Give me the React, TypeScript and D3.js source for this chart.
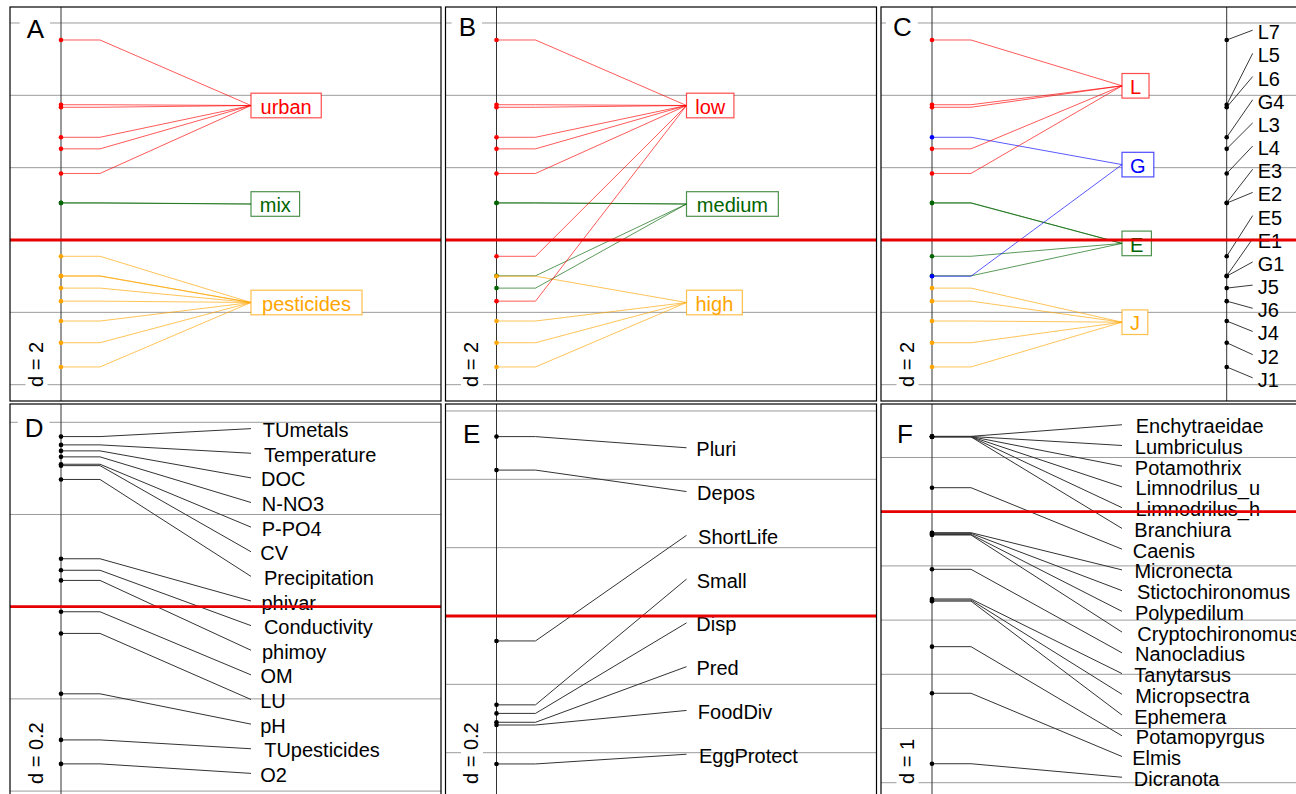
import React, { useEffect, useRef } from "react";
import * as d3 from "d3";

// ---------------- data ----------------
const siteNames = ["L7", "L5", "L6", "G4", "L3", "L4", "E3", "E2", "E5", "E1", "G1", "J5", "J6", "J4", "J2", "J1"];
const siteScores = [5.53, 3.74, 3.67, 2.84, 2.52, 1.84, 1.03, 1.02, -0.45, -0.99, -1.0, -1.33, -1.69, -2.24, -2.84, -3.51];

const landUseLevels = ["urban", "mix", "pesticides"];
const landUseOfSite = ["urban", "urban", "urban", "urban", "urban", "urban", "mix", "mix", "pesticides", "pesticides", "pesticides", "pesticides", "pesticides", "pesticides", "pesticides", "pesticides"];
const landUseColors = ["#ff0000", "#006400", "#ffa500"];

const intensityLevels = ["low", "medium", "high"];
const intensityOfSite = ["low", "low", "low", "low", "low", "low", "medium", "medium", "low", "medium", "high", "medium", "low", "high", "high", "high"];
const intensityColors = ["#ff0000", "#006400", "#ffa500"];

const regionLevels = ["L", "G", "E", "J"];
const regionOfSite = ["L", "L", "L", "G", "L", "L", "E", "E", "E", "E", "G", "J", "J", "J", "J", "J"];
const regionColors = ["#ff0000", "#0000ff", "#006400", "#ffa500"];

const envNames = ["TUmetals", "Temperature", "DOC", "N-NO3", "P-PO4", "CV", "Precipitation", "phivar", "Conductivity", "phimoy", "OM", "LU", "pH", "TUpesticides", "O2"];
const envScores = [0.369, 0.351, 0.338, 0.325, 0.309, 0.306, 0.276, 0.104, 0.079, 0.057, -0.011, -0.058, -0.189, -0.289, -0.341];

const traitNames = ["Pluri", "Depos", "ShortLife", "Small", "Disp", "Pred", "FoodDiv", "EggProtect"];
const traitScores = [0.525, 0.427, -0.073, -0.26, -0.285, -0.311, -0.319, -0.433];

const taxaNames = ["Enchytraeidae", "Lumbriculus", "Potamothrix", "Limnodrilus_u", "Limnodrilus_h", "Branchiura", "Caenis", "Micronecta", "Stictochironomus", "Polypedilum", "Cryptochironomus", "Nanocladius", "Tanytarsus", "Micropsectra", "Ephemera", "Potamopyrgus", "Elmis", "Dicranota"];
const taxaScores = [1.39, 1.388, 1.386, 1.384, 1.382, 1.38, 0.443, -0.387, -0.4, -0.42, -0.43, -1.063, -1.61, -1.63, -1.65, -2.49, -3.35, -4.65];

const panelLetters = ["A", "B", "C", "D", "E", "F"];
const gridSteps = [2, 2, 2, 0.2, 0.2, 1];
const gridLabels = ["d = 2", "d = 2", "d = 2", "d = 0.2", "d = 0.2", "d = 1"];

// ---------------- layout ----------------
const W = 1296;
const H = 794;
const colLefts = [10, 445.5, 881];
const rowTops = [7, 404];
const PW = 431;
const PH = 394;
const AXIS_DX = 51;
const ELBOW = 39;
const LABEL_DX = 190;
const RIGHT_AXIS_DX = 345.7;
const domains: [number, number][] = [
  [-4.451, 6.442],
  [-4.451, 6.442],
  [-4.451, 6.442],
  [-0.415, 0.4397],
  [-0.5326, 0.6204],
  [-5.282, 1.987],
];
const letterPos = [
  [16.7, 31.3],
  [13.2, 29],
  [12, 29],
  [14.7, 32.7],
  [17.5, 38.7],
  [16, 38.7],
];
const FONT = "'Liberation Sans', Arial, Helvetica, sans-serif";

type Sel = d3.Selection<any, any, any, any>;

function textWidth(t: Sel): number {
  return (t.node() as SVGTextElement).getComputedTextLength();
}

function drawPanel(root: Sel, i: number) {
  const col = i % 3;
  const row = Math.floor(i / 3);
  const left = colLefts[col];
  const top = rowTops[row];
  const clipId = "pclip" + i;
  root
    .append("clipPath")
    .attr("id", clipId)
    .append("rect")
    .attr("x", left)
    .attr("y", top)
    .attr("width", PW)
    .attr("height", PH);
  const c = root.append("g").attr("clip-path", `url(#${clipId})`);
  c.append("rect").attr("x", left).attr("y", top).attr("width", PW).attr("height", PH).attr("fill", "#fff");

  const dom = domains[i];
  const y = d3.scaleLinear().domain(dom).range([top + PH, top]);
  const step = gridSteps[i];
  const ticks = d3
    .range(Math.ceil(dom[0] / step - 1e-9), Math.floor(dom[1] / step + 1e-9) + 1)
    .map((k) => k * step);

  c.selectAll("line.grid")
    .data(ticks)
    .join("line")
    .attr("x1", left)
    .attr("x2", left + PW)
    .attr("y1", (t) => y(t))
    .attr("y2", (t) => y(t))
    .attr("stroke", "#9c9c9c")
    .attr("stroke-width", 1);

  const ax = left + AXIS_DX;
  c.append("line")
    .attr("x1", ax)
    .attr("x2", ax)
    .attr("y1", top)
    .attr("y2", top + PH)
    .attr("stroke", "#333")
    .attr("stroke-width", 1);

  const line = d3.line<[number, number]>();

  if (i < 3) {
    const groupsBy = [landUseOfSite, intensityOfSite, regionOfSite][i];
    const levels = [landUseLevels, intensityLevels, regionLevels][i];
    const colors = [landUseColors, intensityColors, regionColors][i];
    const means = levels.map((l) => d3.mean(siteScores.filter((_, k) => groupsBy[k] === l)) as number);
    const order = d3.range(levels.length).sort((a, b) => means[b] - means[a]);
    const labelY = new Map<string, number>();
    order.forEach((li, k) => labelY.set(levels[li], top + ((k + 1) * PH) / (levels.length + 1)));
    const colorOf = (l: string) => colors[levels.indexOf(l)];

    // links
    c.selectAll("path.link")
      .data(siteScores.map((s, k) => ({ s, g: groupsBy[k] })))
      .join("path")
      .attr("d", (d) =>
        line([
          [ax, y(d.s)],
          [ax + ELBOW, y(d.s)],
          [ax + LABEL_DX, labelY.get(d.g) as number],
        ])
      )
      .attr("fill", "none")
      .attr("stroke", (d) => colorOf(d.g))
      .attr("stroke-opacity", 0.65)
      .attr("stroke-width", 1);

    c.selectAll("circle.pt")
      .data(siteScores.map((s, k) => ({ s, g: groupsBy[k] })))
      .join("circle")
      .attr("cx", ax)
      .attr("cy", (d) => y(d.s))
      .attr("r", 2.3)
      .attr("fill", (d) => colorOf(d.g));

    levels.forEach((l) => {
      const ly = labelY.get(l) as number;
      const bx = ax + LABEL_DX;
      const rect = c.append("rect");
      const t = c
        .append("text")
        .text(l)
        .attr("font-family", FONT)
        .attr("font-size", 20)
        .attr("fill", colorOf(l))
        .attr("y", ly + 8.2);
      const w = textWidth(t);
      const bw = w * 1.08 + 15;
      t.attr("x", bx + bw / 2).attr("text-anchor", "middle");
      rect
        .attr("x", bx)
        .attr("y", ly - 12.3)
        .attr("width", bw)
        .attr("height", 24.6)
        .attr("fill", "#fff")
        .attr("stroke", colorOf(l))
        .attr("stroke-opacity", 0.7)
        .attr("stroke-width", 1.2);
    });

    if (i === 2) {
      const ax2 = left + RIGHT_AXIS_DX;
      c.append("line")
        .attr("x1", ax2)
        .attr("x2", ax2)
        .attr("y1", top)
        .attr("y2", top + PH)
        .attr("stroke", "#333")
        .attr("stroke-width", 1);
      const idx = d3.range(siteNames.length).sort((a, b) => siteScores[b] - siteScores[a]);
      idx.forEach((k, r) => {
        const ly = top + ((r + 1) * PH) / (siteNames.length + 1);
        c.append("line")
          .attr("x1", ax2)
          .attr("y1", y(siteScores[k]))
          .attr("x2", ax2 + 26)
          .attr("y2", ly)
          .attr("stroke", "#222")
          .attr("stroke-width", 0.9);
        c.append("circle").attr("cx", ax2).attr("cy", y(siteScores[k])).attr("r", 2.3).attr("fill", "#000");
        c.append("text")
          .text(siteNames[k])
          .attr("x", ax2 + 31)
          .attr("y", ly + 9)
          .attr("font-family", FONT)
          .attr("font-size", 20)
          .attr("fill", "#000");
      });
    }
  } else {
    const names = [envNames, traitNames, taxaNames][i - 3];
    const scores = [envScores, traitScores, taxaScores][i - 3];
    const idx = d3.range(names.length).sort((a, b) => scores[b] - scores[a]);
    idx.forEach((k, r) => {
      const ly = top + ((r + 1) * PH) / (names.length + 1);
      const yy = y(scores[k]);
      c.append("path")
        .attr(
          "d",
          line([
            [ax, yy],
            [ax + ELBOW, yy],
            [ax + LABEL_DX, ly],
          ])
        )
        .attr("fill", "none")
        .attr("stroke", "#333")
        .attr("stroke-width", 1);
    });
    idx.forEach((k, r) => {
      const ly = top + ((r + 1) * PH) / (names.length + 1);
      c.append("circle").attr("cx", ax).attr("cy", y(scores[k])).attr("r", 2.3).attr("fill", "#000");
      const t = c
        .append("text")
        .text(names[k])
        .attr("y", ly + 8.5)
        .attr("font-family", FONT)
        .attr("font-size", 20)
        .attr("fill", "#000");
      const w = textWidth(t);
      t.attr("x", ax + LABEL_DX + 8 + 0.045 * w);
    });
  }

  // zero line
  c.append("line")
    .attr("x1", left)
    .attr("x2", left + PW)
    .attr("y1", y(0))
    .attr("y2", y(0))
    .attr("stroke", "#e60000")
    .attr("stroke-width", 2.8);

  // panel letter
  const lp = letterPos[i];
  const lrect = c.append("rect").attr("fill", "#fff");
  const lt = c
    .append("text")
    .text(panelLetters[i])
    .attr("x", left + lp[0])
    .attr("y", top + lp[1])
    .attr("font-family", FONT)
    .attr("font-size", 26)
    .attr("fill", "#000");
  const lw = textWidth(lt);
  lrect
    .attr("x", left + lp[0] - 7)
    .attr("y", top + lp[1] - 26)
    .attr("width", lw + 13)
    .attr("height", 32);

  // grid step label (rotated)
  const bx = left + 32.5;
  const by = top + 380;
  const dg = c.append("g").attr("transform", `translate(${bx},${by}) rotate(-90)`);
  const drect = dg.append("rect").attr("fill", "#fff");
  const dt = dg
    .append("text")
    .text(gridLabels[i])
    .attr("x", 0)
    .attr("y", 0)
    .attr("font-family", FONT)
    .attr("font-size", 20)
    .attr("fill", "#000");
  const dw = textWidth(dt);
  drect.attr("x", -4).attr("y", -17).attr("width", dw + 8).attr("height", 22);

  // border
  root
    .append("rect")
    .attr("x", left)
    .attr("y", top)
    .attr("width", PW)
    .attr("height", PH)
    .attr("fill", "none")
    .attr("stroke", "#000")
    .attr("stroke-width", 1.2);
}

export default function App() {
  const ref = useRef<SVGSVGElement>(null);
  useEffect(() => {
    if (!ref.current) return;
    const svg = d3.select(ref.current);
    svg.selectAll("*").remove();
    svg.append("rect").attr("width", W).attr("height", H).attr("fill", "#fff");
    for (let i = 0; i < 6; i++) drawPanel(svg, i);
  }, []);
  return (
    <div style={{ position: "absolute", left: 0, top: 0, width: W, height: H, overflow: "hidden", background: "#fff" }}>
      <svg ref={ref} width={W} height={H} style={{ display: "block" }} />
    </div>
  );
}
